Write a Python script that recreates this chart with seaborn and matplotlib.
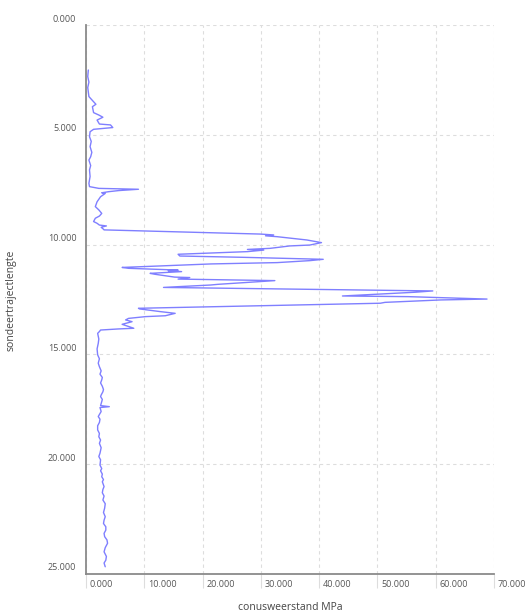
import matplotlib
matplotlib.use("Agg")
import matplotlib.pyplot as plt
import matplotlib.transforms as mtransforms
import seaborn as sns
import pandas as pd

# depth along the probe (m) and cone resistance (MPa)
depth = [2.05, 2.35, 2.60, 2.85, 3.04, 3.26, 3.49, 3.61, 3.72, 3.99, 4.10, 4.20,
         4.33, 4.51, 4.55, 4.67, 4.70, 4.75, 4.86, 5.09, 5.30, 5.54, 5.80, 6.00,
         6.15, 6.40, 6.60, 6.90, 7.21, 7.36, 7.44, 7.48, 7.54, 7.59, 7.64, 7.67,
         7.82, 8.05, 8.27, 8.42, 8.58, 8.70, 8.80, 8.95, 9.03, 9.11, 9.15, 9.21,
         9.30, 9.33, 9.52, 9.56, 9.60, 9.64, 9.79, 9.91, 10.02, 10.06, 10.17,
         10.22, 10.25, 10.32, 10.44, 10.52, 10.58, 10.67, 10.73, 10.82, 10.88,
         11.04, 11.08, 11.16, 11.19, 11.23, 11.31, 11.35, 11.48, 11.50, 11.57,
         11.64, 11.81, 11.84, 11.95, 12.11, 12.17, 12.34, 12.37, 12.48, 12.52,
         12.63, 12.67, 12.90, 12.93, 13.05, 13.13, 13.24, 13.28, 13.36, 13.43,
         13.51, 13.63, 13.73, 13.81, 13.84, 13.89, 13.96, 14.04, 14.30, 14.50,
         14.75, 15.02, 15.20, 15.40, 15.56, 15.75, 15.90, 16.05, 16.16, 16.30,
         16.45, 16.60, 16.70, 16.85, 16.92, 17.05, 17.15, 17.33, 17.38, 17.42,
         17.60, 17.83, 17.95, 18.10, 18.25, 18.44, 18.60, 18.75, 18.90, 19.05,
         19.25, 19.50, 19.65, 19.80, 20.04, 20.20, 20.30, 20.45, 20.57, 20.70,
         20.80, 21.02, 21.15, 21.30, 21.45, 21.63, 21.80, 22.00, 22.20, 22.39,
         22.55, 22.70, 22.85, 23.00, 23.15, 23.30, 23.45, 23.60, 23.80, 23.99,
         24.20, 24.37, 24.50, 24.67]
qc = [0.4, 0.3, 0.5, 0.3, 0.4, 0.5, 1.3, 1.7, 1.1, 1.3, 2.2, 2.9,
      1.9, 2.3, 4.2, 4.6, 3.3, 1.3, 0.7, 0.6, 0.9, 0.7, 1.0, 0.8,
      0.5, 0.8, 0.6, 0.7, 0.5, 0.6, 2.2, 9.0, 5.6, 3.9, 2.7, 3.3,
      2.5, 1.9, 1.6, 2.2, 2.7, 2.3, 1.6, 1.3, 1.9, 2.3, 3.5, 2.6,
      3.0, 3.1, 29.9, 32.2, 30.8, 32.8, 37.9, 40.4, 38.4, 35.0, 31.6,
      27.7, 30.5, 27.7, 15.8, 16.1, 27.1, 40.7, 38.4, 32.8, 21.5,
      6.2, 7.3, 15.8, 14.1, 16.4, 11.0, 11.8, 15.2, 17.8, 15.8,
      32.4, 22.6, 21.4, 13.3, 59.5, 56.4, 44.0, 55.3, 68.8, 60.9,
      51.3, 50.5, 9.0, 9.2, 12.7, 15.3, 13.6, 10.2, 7.3, 6.8,
      7.9, 6.2, 7.3, 8.2, 5.6, 2.5, 2.3, 2.0, 2.2, 2.1,
      1.9, 2.0, 2.3, 2.1, 2.3, 2.6, 2.4, 2.8, 2.7, 2.5,
      2.8, 3.0, 2.9, 2.6, 2.5, 2.8, 2.7, 2.5, 4.0, 2.4,
      2.6, 2.1, 2.4, 2.3, 2.0, 2.0, 2.3, 2.2, 2.5, 2.3,
      2.6, 2.4, 2.2, 2.5, 2.4, 2.7, 2.5, 2.8, 2.7, 3.0,
      2.8, 3.1, 2.9, 2.8, 3.1, 2.9, 3.3, 3.2, 3.0, 3.3,
      3.1, 3.0, 3.4, 3.4, 3.1, 3.2, 3.6, 3.7, 3.3, 3.1,
      3.5, 3.4, 3.1, 3.3]

x_ticks = [0, 10, 20, 30, 40, 50, 60, 70]
y_ticks = [0, 5, 10, 15, 20, 25]
x_label = "conusweerstand MPa"
y_label = "sondeertrajectlengte"

df = pd.DataFrame({"depth": depth, "qc": qc})

sns.set_theme(style="white")
plt.rcParams["font.family"] = ["Open Sans", "DejaVu Sans"]

fig = plt.figure(figsize=(5.31, 6.15), dpi=100)
ax = fig.add_axes([86 / 531, 41 / 615, 408 / 531, 549 / 615])

sns.lineplot(data=df, x="qc", y="depth", sort=False, estimator=None,
             color="#7f7fff", linewidth=1.0, ax=ax)

ax.set_xlim(0, 70)
ax.set_ylim(25, 0)
ax.set_xticks(x_ticks)
ax.set_yticks(y_ticks)
ax.set_xticklabels([f"{v:.3f}" for v in x_ticks])
ax.set_yticklabels([f"{v:.3f}" for v in y_ticks])

ax.grid(True, color="#dddddd", linestyle=(0, (3, 3)), linewidth=0.8)
for s in ["top", "right"]:
    ax.spines[s].set_visible(False)
for s in ["left", "bottom"]:
    ax.spines[s].set_color("#8a8a8a")
    ax.spines[s].set_linewidth(1.3)

ax.tick_params(axis="x", length=10, width=0.8, color="#dddddd", pad=-5.5,
               labelsize=6.5, labelcolor="#555555", direction="out", bottom=True)
ax.tick_params(axis="y", length=0, pad=7, labelsize=6.5, labelcolor="#555555")

off_x = mtransforms.ScaledTranslation(4 / 100, 0, fig.dpi_scale_trans)
for lab in ax.get_xticklabels():
    lab.set_horizontalalignment("left")
    lab.set_transform(lab.get_transform() + off_x)
off_y = mtransforms.ScaledTranslation(0, 1.5 / 100, fig.dpi_scale_trans)
for lab in ax.get_yticklabels():
    lab.set_verticalalignment("bottom")
    lab.set_transform(lab.get_transform() + off_y)

ax.set_xlabel("")
ax.set_ylabel("")
fig.text(290 / 531, 1 - 608 / 615, x_label, ha="center", va="center",
         fontsize=7.5, color="#444444")
fig.text(11 / 531, 1 - 300 / 615, y_label, ha="center", va="center",
         rotation=90, fontsize=7.5, color="#444444")

fig.savefig("out.png", dpi=100)
